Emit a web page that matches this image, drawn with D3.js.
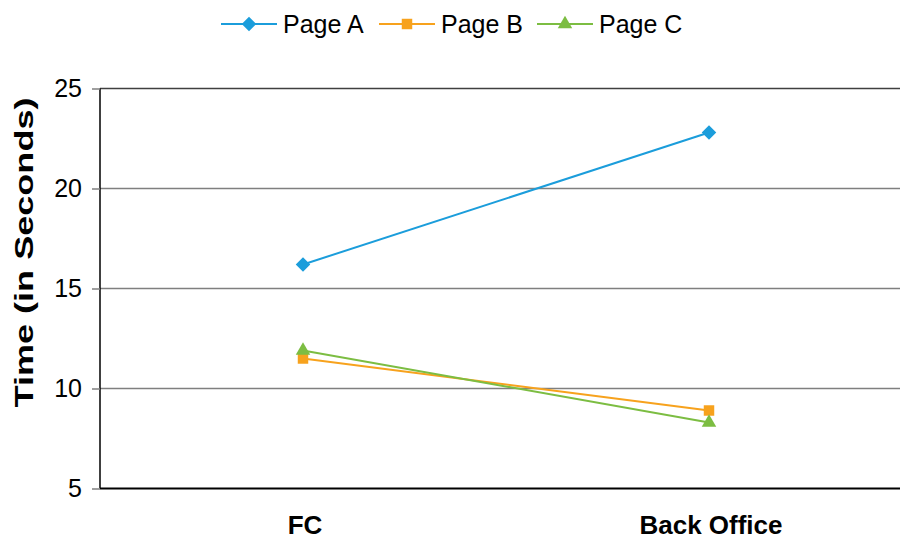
<!DOCTYPE html>
<html>
<head>
<meta charset="utf-8">
<script src="https://cdn.jsdelivr.net/npm/d3@7"></script>
<style>
  html, body { margin: 0; padding: 0; background: #ffffff; }
  svg { display: block; font-family: "Liberation Sans", Arial, sans-serif; }
</style>
</head>
<body>
<svg id="chart" width="900" height="540"></svg>
<script>
// Page load time by environment
const categories = ["FC", "Back Office"];
const seriesNames = ["Page A", "Page B", "Page C"];
const pageA = [16.2, 22.8];
const pageB = [11.5, 8.9];
const pageC = [11.9, 8.3];
const yTicks = [5, 10, 15, 20, 25];
const colors = ["#1b9ddb", "#f7a21d", "#7cbd42"];
const symbols = [d3.symbolDiamond2, d3.symbolSquare2, d3.symbolTriangle2];
const markerSizes = [135, 140, 150];

const series = seriesNames.map((name, i) => ({
  name,
  values: [pageA, pageB, pageC][i],
  color: colors[i],
  symbol: symbols[i],
  size: markerSizes[i]
}));

const svg = d3.select("#chart");
const plot = { left: 100, right: 912, top: 88.5, bottom: 488.5 };

const x = d3.scalePoint().domain(categories).range([plot.left, plot.right]).padding(0.5);
const y = d3.scaleLinear().domain([5, 25]).range([plot.bottom, plot.top]);

// horizontal gridlines
svg.append("g")
  .selectAll("line")
  .data(yTicks.filter(t => t > 5))
  .join("line")
  .attr("x1", plot.left).attr("x2", plot.right)
  .attr("y1", d => y(d)).attr("y2", d => y(d))
  .attr("stroke", d => d === 25 ? "#404040" : "#7f7f7f")
  .attr("stroke-width", 1.5);

// y axis
const yAxis = svg.append("g")
  .attr("transform", `translate(${plot.left},0)`)
  .call(d3.axisLeft(y).tickValues(yTicks).tickSize(8).tickPadding(10).tickFormat(d3.format("d")));
yAxis.select(".domain").attr("stroke", "#000").attr("stroke-width", 1.5).attr("d", `M0,${plot.top}V${plot.bottom}`);
yAxis.selectAll(".tick line").attr("stroke", "#7f7f7f").attr("stroke-width", 1.5);
yAxis.selectAll(".tick text")
  .attr("fill", "#000")
  .style("font-size", "25px")
  .style("font-family", "'Liberation Sans', Arial, sans-serif");

// x axis baseline and category labels
svg.append("line")
  .attr("x1", plot.left).attr("x2", plot.right)
  .attr("y1", plot.bottom).attr("y2", plot.bottom)
  .attr("stroke", "#000").attr("stroke-width", 2);

svg.append("g")
  .selectAll("text")
  .data(categories)
  .join("text")
  .attr("x", d => x(d) + 2)
  .attr("y", 534)
  .attr("text-anchor", "middle")
  .style("font-size", "26px")
  .style("font-weight", "bold")
  .text(d => d);

// y axis title
svg.append("text")
  .attr("transform", "translate(33,252.5) rotate(-90)")
  .attr("text-anchor", "middle")
  .attr("textLength", 310)
  .attr("lengthAdjust", "spacingAndGlyphs")
  .style("font-size", "25px")
  .style("font-weight", "bold")
  .text("Time (in Seconds)");

// lines and markers
const line = d3.line().x((d, i) => x(categories[i])).y(d => y(d));

const sg = svg.append("g").selectAll("g").data(series).join("g");
sg.append("path")
  .attr("d", d => line(d.values))
  .attr("fill", "none")
  .attr("stroke", d => d.color)
  .attr("stroke-width", 2);
sg.each(function (s) {
  d3.select(this).selectAll("path.mark")
    .data(s.values)
    .join("path")
    .attr("class", "mark")
    .attr("transform", (d, i) => `translate(${x(categories[i])},${y(d)})`)
    .attr("d", d3.symbol().type(s.symbol).size(s.size))
    .attr("fill", s.color);
});

// legend
const legendX = [221, 379, 537];
const legend = svg.append("g").selectAll("g").data(series).join("g")
  .attr("transform", (d, i) => `translate(${legendX[i]},24)`);
legend.append("line")
  .attr("x1", 0).attr("x2", 56)
  .attr("stroke", d => d.color).attr("stroke-width", 2);
legend.append("path")
  .attr("transform", "translate(28,0)")
  .attr("d", d => d3.symbol().type(d.symbol).size(d.size)())
  .attr("fill", d => d.color);
legend.append("text")
  .attr("x", 62)
  .attr("dy", "0.35em")
  .style("font-size", "25px")
  .text(d => d.name);
</script>
</body>
</html>
